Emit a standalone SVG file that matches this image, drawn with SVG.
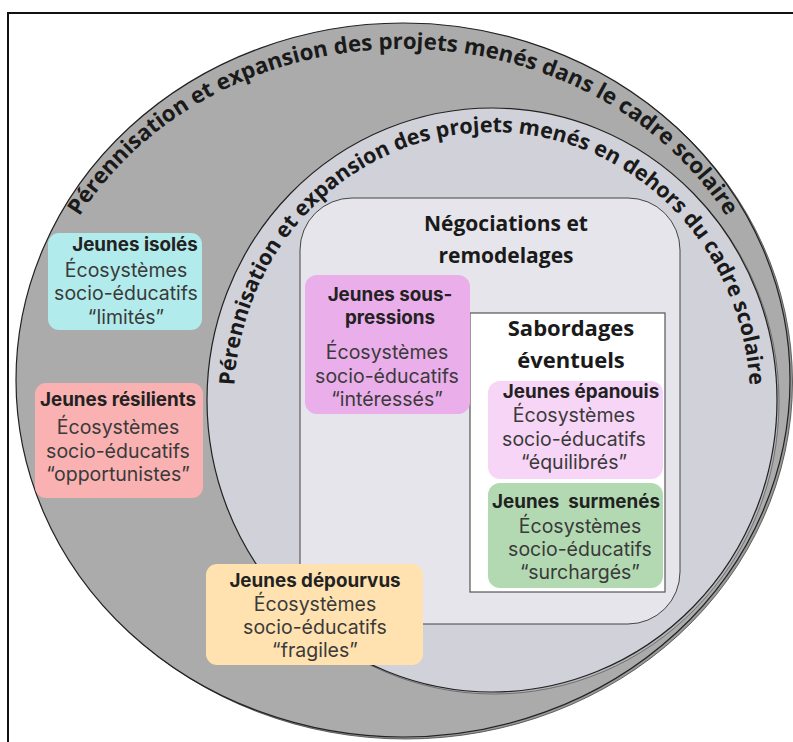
<svg xmlns="http://www.w3.org/2000/svg" width="793" height="742" viewBox="0 0 793 742">
<defs>
<style>
.title{font-family:"Open Sans","Liberation Sans",sans-serif;font-weight:700;fill:#1a1a1a;text-anchor:middle}
.arc{font-family:"Open Sans","Liberation Sans",sans-serif;font-weight:700;font-size:21.5px;fill:#1a1a1a}
.hd{font-family:Inter,"Liberation Sans",sans-serif;font-weight:700;font-size:18.8px;fill:#222;text-anchor:middle}
.bd{font-family:Inter,"Liberation Sans",sans-serif;font-weight:400;font-size:19.5px;fill:#3a3a3a;text-anchor:middle}
.box{stroke:none}
</style>
<path id="outerArc" d="M36.7,437.6 A372,331 0 1 1 769.3,437.6"/>
<path id="innerArc" d="M237.9,446.6 A258,268 0 1 1 746.1,446.6"/>
</defs>
<rect x="0" y="0" width="793" height="742" fill="#ffffff"/>
<rect x="8" y="13" width="820" height="800" fill="none" stroke="#111" stroke-width="2"/>

<g id="outer-ring">
<ellipse cx="405.5" cy="382" rx="387" ry="357" fill="#999999" stroke="#444" stroke-width="0.8"/>
<ellipse cx="403" cy="380" rx="387" ry="357" fill="#ababab" stroke="#222" stroke-width="1.2"/>
<text class="arc" style="font-size:22.3px"><textPath href="#outerArc" startOffset="50%" text-anchor="middle">Pérennisation et expansion des projets menés dans le cadre scolaire</textPath></text>
</g>

<g id="inner-ring">
<ellipse cx="494" cy="402" rx="285" ry="292" fill="#b4b4bb" stroke="#555" stroke-width="0.7"/>
<ellipse cx="492" cy="400" rx="285" ry="292" fill="#d1d1d9" stroke="#222" stroke-width="1.2"/>
<text class="arc"><textPath href="#innerArc" startOffset="50%" text-anchor="middle">Pérennisation et expansion des projets menés en dehors du cadre scolaire</textPath></text>
</g>

<g id="negociations">
<rect x="300" y="198" width="380" height="426" rx="52" fill="#e5e5eb" stroke="#444" stroke-width="1"/>
<text class="title" font-size="21" x="506" y="231">Négociations et</text>
<text class="title" font-size="21" x="506" y="263">remodelages</text>
</g>

<g id="sabordages">
<rect x="470" y="313" width="195" height="279" fill="#ffffff" stroke="#555" stroke-width="1.2"/>
<text class="title" font-size="22" x="571" y="336">Sabordages</text>
<text class="title" font-size="22" x="571" y="368">éventuels</text>
</g>

<g id="jeunes-isoles">
<rect class="box" x="48" y="233" width="154" height="97" rx="11" fill="#b2ebeb"/>
<text class="hd" x="135" y="251">Jeunes isolés</text>
<text class="bd" x="126" y="277">Écosystèmes</text>
<text class="bd" x="126" y="300">socio-éducatifs</text>
<text class="bd" x="126" y="324">“limités”</text>
</g>

<g id="jeunes-resilients">
<rect class="box" x="35" y="383" width="168" height="115" rx="11" fill="#f9b1b1"/>
<text class="hd" x="118" y="406">Jeunes résilients</text>
<text class="bd" x="118" y="434">Écosystèmes</text>
<text class="bd" x="118" y="458">socio-éducatifs</text>
<text class="bd" x="118" y="481">“opportunistes”</text>
</g>

<g id="jeunes-depourvus">
<rect class="box" x="206" y="564" width="217" height="101" rx="11" fill="#ffe2b0"/>
<text class="hd" x="315" y="587">Jeunes dépourvus</text>
<text class="bd" x="315" y="611">Écosystèmes</text>
<text class="bd" x="315" y="634">socio-éducatifs</text>
<text class="bd" x="315" y="657">“fragiles”</text>
</g>

<g id="jeunes-sous-pressions">
<rect class="box" x="305" y="275" width="165" height="139" rx="12" fill="#eaaeea"/>
<text class="hd" x="390" y="301">Jeunes sous-</text>
<text class="hd" x="390" y="324">pressions</text>
<text class="bd" x="387" y="359">Écosystèmes</text>
<text class="bd" x="387" y="383">socio-éducatifs</text>
<text class="bd" x="387" y="406">“intéressés”</text>
</g>

<g id="jeunes-epanouis">
<rect class="box" x="488" y="381" width="175" height="98" rx="12" fill="#f7d5f6"/>
<text class="hd" x="581" y="398">Jeunes épanouis</text>
<text class="bd" x="574" y="422">Écosystèmes</text>
<text class="bd" x="574" y="446">socio-éducatifs</text>
<text class="bd" x="574" y="469">“équilibrés”</text>
</g>

<g id="jeunes-surmenes">
<rect class="box" x="488" y="483" width="175" height="105" rx="12" fill="#b3d9b2"/>
<text class="hd" x="576" y="508" xml:space="preserve">Jeunes  surmenés</text>
<text class="bd" x="580" y="533">Écosystèmes</text>
<text class="bd" x="580" y="556">socio-éducatifs</text>
<text class="bd" x="580" y="579">“surchargés”</text>
</g>

<g id="connectors"/>
</svg>
